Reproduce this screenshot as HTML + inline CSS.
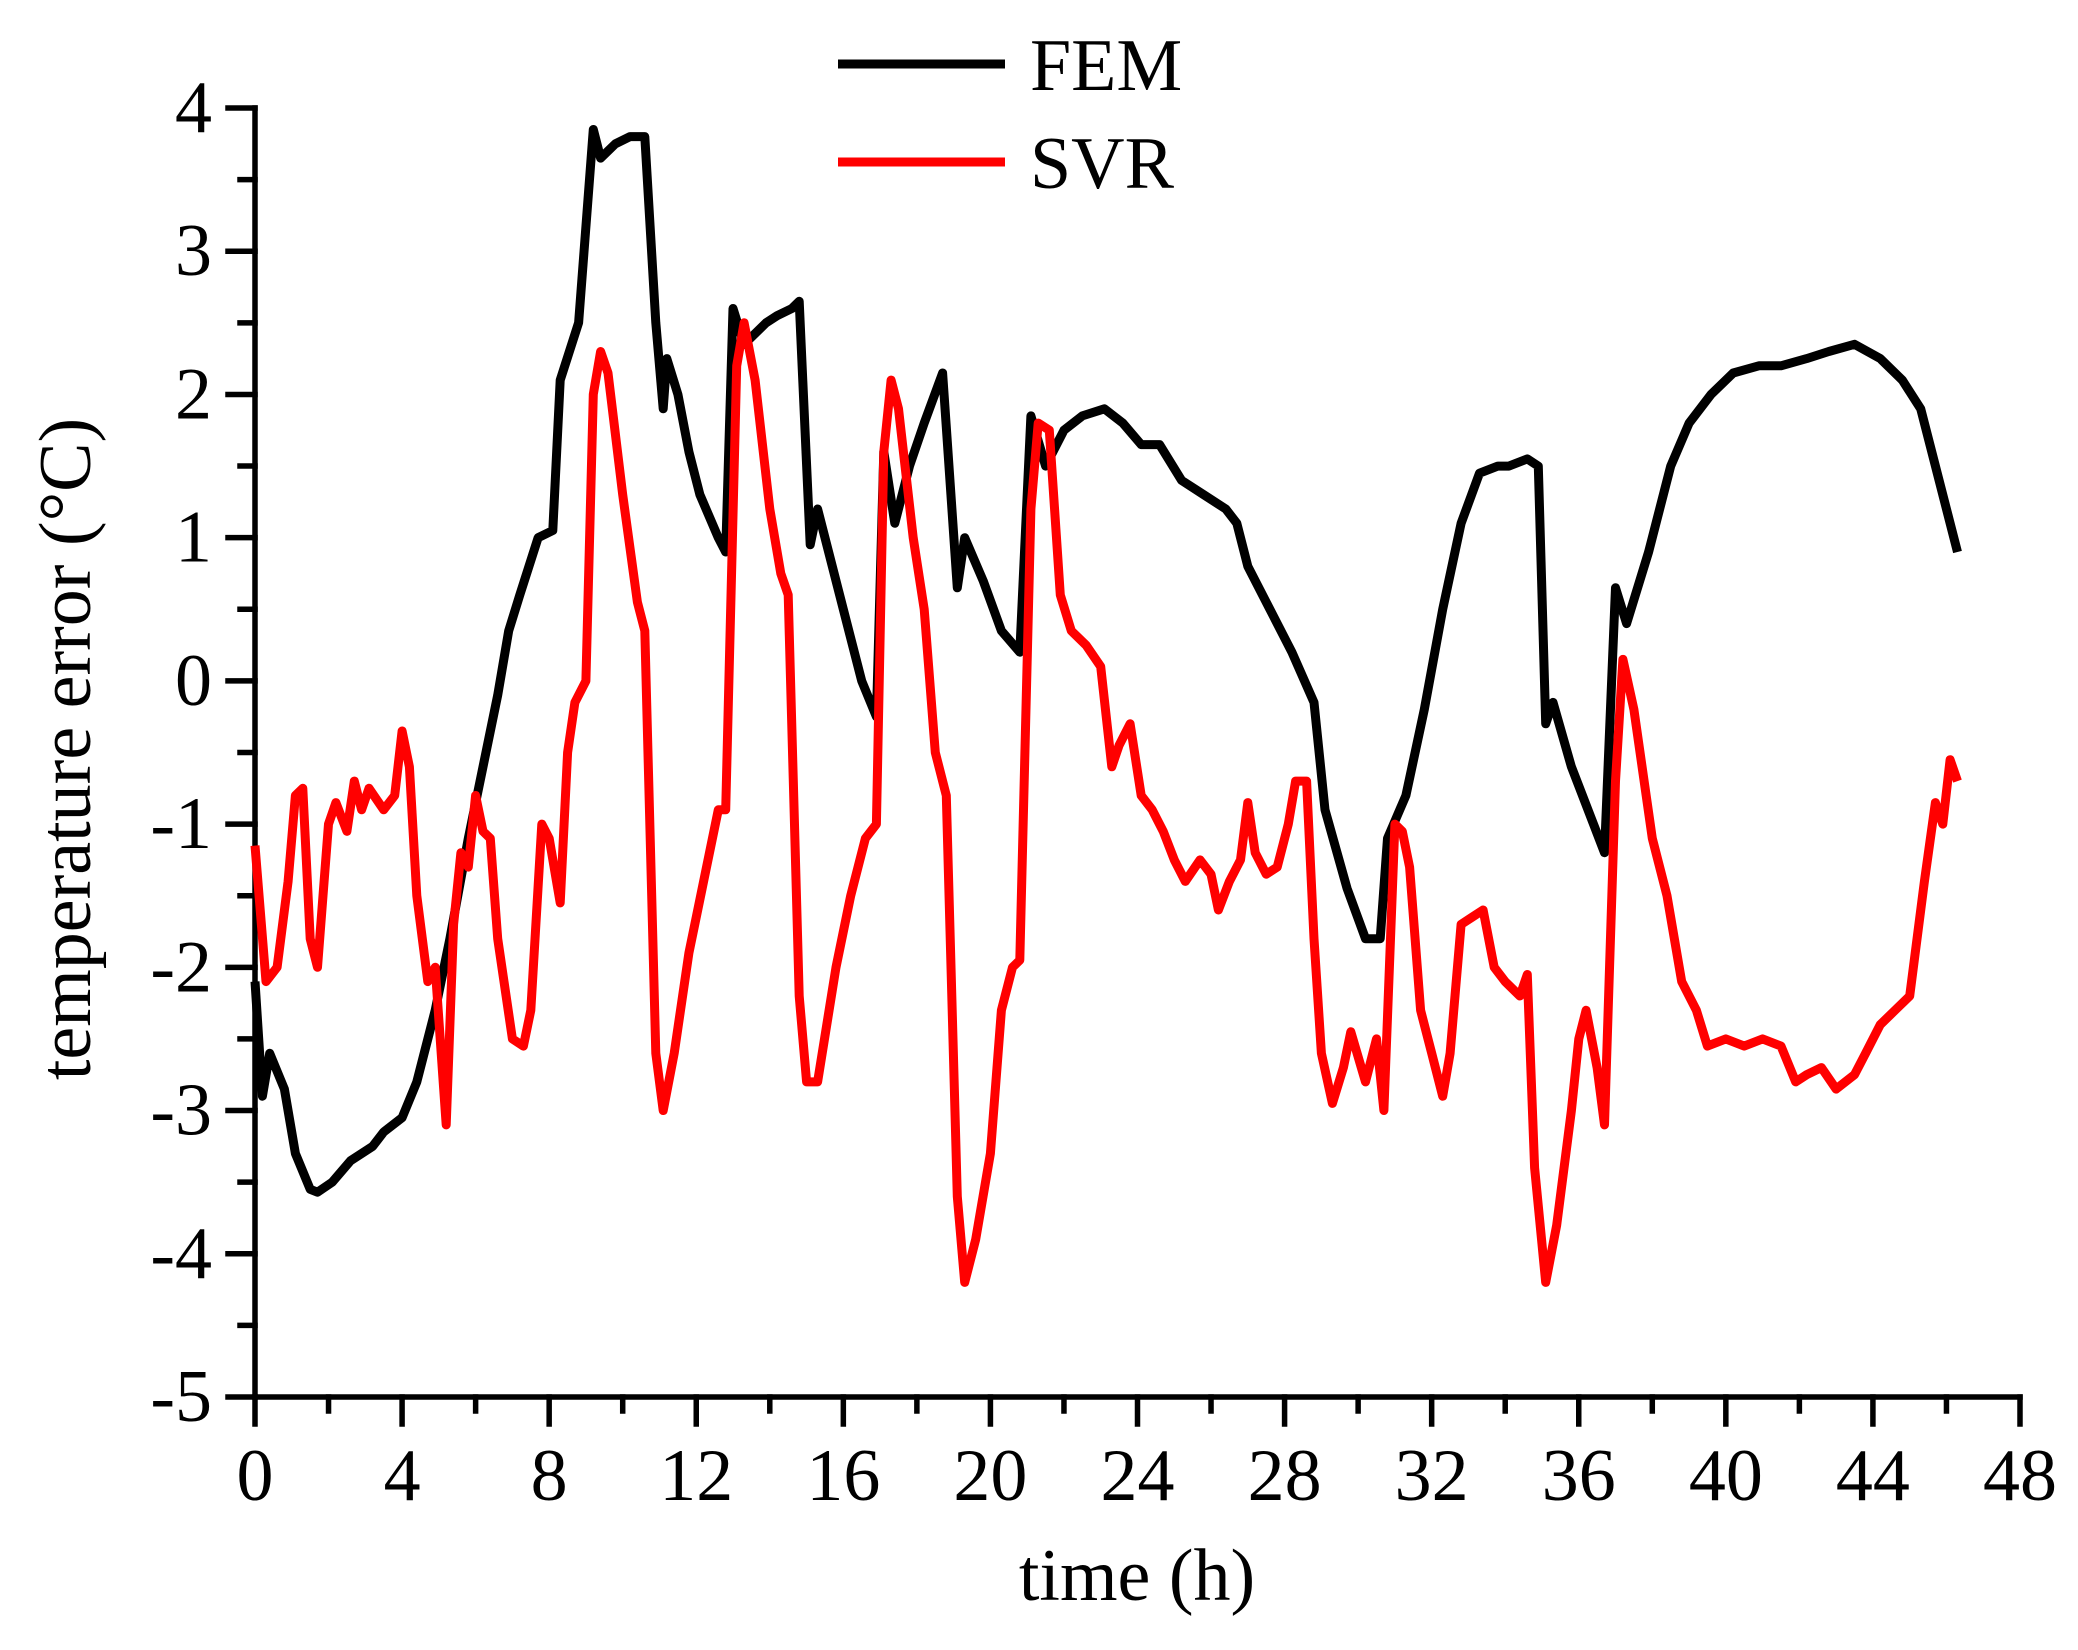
<!DOCTYPE html>
<html><head><meta charset="utf-8"><style>html,body{margin:0;padding:0;background:#fff}svg{display:block}text{font-family:"Liberation Serif",serif;fill:#000}</style></head>
<body>
<svg id="s" width="2078" height="1650" viewBox="0 0 2078 1650" xmlns="http://www.w3.org/2000/svg">
<g id="ax" stroke="#000" stroke-width="5.5" fill="none" stroke-linecap="square"></g>
<g id="lb" font-size="74"></g>
<text x="1137" y="1600" font-size="74" text-anchor="middle">time (h)</text>
<text transform="translate(90,749) rotate(-90)" font-size="74" text-anchor="middle">temperature error (°C)</text>
<line x1="838" y1="64" x2="1005" y2="64" stroke="#000" stroke-width="9"/>
<line x1="838" y1="162" x2="1005" y2="162" stroke="#f00" stroke-width="9"/>
<text x="1030" y="90" font-size="74">FEM</text>
<text x="1030" y="188" font-size="74">SVR</text>
<polyline id="fem" fill="none" stroke="#000" stroke-width="9" stroke-linejoin="round"/>
<polyline id="svr" fill="none" stroke="#f00" stroke-width="9" stroke-linejoin="round"/>
</svg>
<script>
var X=function(h){return 255+h*1765/48},Y=function(v){return 108+(4-v)*143.22};
var ax=document.getElementById('ax'),lb=document.getElementById('lb'),NS='http://www.w3.org/2000/svg';
function L(a,b,c,d){var e=document.createElementNS(NS,'line');e.setAttribute('x1',a);e.setAttribute('y1',b);e.setAttribute('x2',c);e.setAttribute('y2',d);ax.appendChild(e);}
function T(x,y,s,a){var e=document.createElementNS(NS,'text');e.setAttribute('x',x);e.setAttribute('y',y);e.setAttribute('text-anchor',a);e.textContent=s;lb.appendChild(e);}
L(255,108,255,1397);L(255,1397,2020,1397);
for(var v=-5;v<=4;v++){L(228,Y(v),255,Y(v));T(212,Y(v)+24,String(v),'end');if(v<4)L(240,Y(v+0.5),255,Y(v+0.5));}
for(var h=0;h<=48;h+=4){L(X(h),1397,X(h),1424);T(X(h),1500,h,'middle');if(h<48)L(X(h+2),1397,X(h+2),1411);}
var fem=[0,-2.1,0.2,-2.9,0.4,-2.6,0.8,-2.85,1.1,-3.3,1.5,-3.55,1.7,-3.57,2.1,-3.5,2.6,-3.35,3.2,-3.25,3.5,-3.15,4,-3.05,4.4,-2.8,4.9,-2.3,5.3,-1.8,5.8,-1.1,6.2,-0.6,6.6,-0.1,6.9,0.35,7.2,0.6,7.7,1.0,8.1,1.05,8.3,2.1,8.8,2.5,9.2,3.85,9.4,3.65,9.8,3.75,10.2,3.8,10.6,3.8,10.9,2.5,11.1,1.9,11.2,2.25,11.5,2.0,11.8,1.6,12.1,1.3,12.6,1.0,12.8,0.9,13.0,2.6,13.3,2.35,13.9,2.5,14.2,2.55,14.6,2.6,14.8,2.65,15.1,0.95,15.3,1.2,16.0,0.5,16.5,0.0,16.9,-0.25,17.1,1.6,17.4,1.1,17.8,1.5,18.2,1.8,18.7,2.15,19.1,0.65,19.3,1.0,19.8,0.7,20.3,0.35,20.8,0.2,21.1,1.85,21.5,1.5,22.0,1.75,22.5,1.85,23.1,1.9,23.6,1.8,24.1,1.65,24.6,1.65,25.2,1.4,25.8,1.3,26.4,1.2,26.7,1.1,27.0,0.8,27.6,0.5,28.2,0.2,28.8,-0.15,29.1,-0.9,29.7,-1.45,30.2,-1.8,30.6,-1.8,30.8,-1.1,31.3,-0.8,31.8,-0.2,32.3,0.5,32.8,1.1,33.3,1.45,33.8,1.5,34.1,1.5,34.6,1.55,34.9,1.5,35.1,-0.3,35.3,-0.15,35.8,-0.6,36.4,-1.0,36.7,-1.2,37.0,0.65,37.3,0.4,37.9,0.9,38.5,1.5,39.0,1.8,39.6,2.0,40.2,2.15,40.9,2.2,41.5,2.2,42.2,2.25,42.8,2.3,43.5,2.35,44.2,2.25,44.8,2.1,45.3,1.9,45.8,1.4,46.3,0.9];
var svr=[0,-1.15,0.3,-2.1,0.6,-2.0,0.9,-1.4,1.1,-0.8,1.3,-0.75,1.5,-1.8,1.7,-2.0,2.0,-1.0,2.2,-0.85,2.5,-1.05,2.7,-0.7,2.9,-0.9,3.1,-0.75,3.5,-0.9,3.8,-0.8,4.0,-0.35,4.2,-0.6,4.4,-1.5,4.7,-2.1,4.9,-2.0,5.2,-3.1,5.4,-1.7,5.6,-1.2,5.8,-1.3,6.0,-0.8,6.2,-1.05,6.4,-1.1,6.6,-1.8,7.0,-2.5,7.3,-2.55,7.5,-2.3,7.8,-1.0,8.0,-1.1,8.3,-1.55,8.5,-0.5,8.7,-0.15,9.0,0.0,9.2,2.0,9.4,2.3,9.6,2.15,10.0,1.3,10.4,0.55,10.6,0.35,10.9,-2.6,11.1,-3.0,11.4,-2.6,11.8,-1.9,12.2,-1.4,12.6,-0.9,12.8,-0.9,13.1,2.2,13.3,2.5,13.6,2.1,14.0,1.2,14.3,0.75,14.5,0.6,14.8,-2.2,15.0,-2.8,15.3,-2.8,15.8,-2.0,16.2,-1.5,16.6,-1.1,16.9,-1.0,17.1,1.6,17.3,2.1,17.5,1.9,17.9,1.0,18.2,0.5,18.5,-0.5,18.8,-0.8,19.1,-3.6,19.3,-4.2,19.6,-3.9,20.0,-3.3,20.3,-2.3,20.6,-2.0,20.8,-1.95,21.1,1.2,21.3,1.8,21.6,1.75,21.9,0.6,22.2,0.35,22.6,0.25,23.0,0.1,23.3,-0.6,23.5,-0.45,23.8,-0.3,24.1,-0.8,24.4,-0.9,24.7,-1.05,25.0,-1.25,25.3,-1.4,25.7,-1.25,26.0,-1.35,26.2,-1.6,26.5,-1.4,26.8,-1.25,27.0,-0.85,27.2,-1.2,27.5,-1.35,27.8,-1.3,28.1,-1.0,28.3,-0.7,28.6,-0.7,28.8,-1.8,29.0,-2.6,29.3,-2.95,29.6,-2.7,29.8,-2.45,30.2,-2.8,30.5,-2.5,30.7,-3.0,31.0,-1.0,31.2,-1.05,31.4,-1.3,31.7,-2.3,32.0,-2.6,32.3,-2.9,32.5,-2.6,32.8,-1.7,33.1,-1.65,33.4,-1.6,33.7,-2.0,34.0,-2.1,34.4,-2.2,34.6,-2.05,34.8,-3.4,35.1,-4.2,35.4,-3.8,35.8,-3.0,36.0,-2.5,36.2,-2.3,36.5,-2.7,36.7,-3.1,37.0,-0.7,37.2,0.15,37.5,-0.2,38.0,-1.1,38.4,-1.5,38.8,-2.1,39.2,-2.3,39.5,-2.55,40.0,-2.5,40.5,-2.55,41.0,-2.5,41.5,-2.55,41.9,-2.8,42.2,-2.75,42.6,-2.7,43.0,-2.85,43.5,-2.75,43.8,-2.6,44.2,-2.4,44.6,-2.3,45.0,-2.2,45.4,-1.4,45.7,-0.85,45.9,-1.0,46.1,-0.55,46.3,-0.7];
function P(a){var s=[];for(var i=0;i<a.length;i+=2)s.push(X(a[i]).toFixed(1)+','+Y(a[i+1]).toFixed(1));return s.join(' ');}
document.getElementById('fem').setAttribute('points',P(fem));
document.getElementById('svr').setAttribute('points',P(svr));
</script>
</body></html>
